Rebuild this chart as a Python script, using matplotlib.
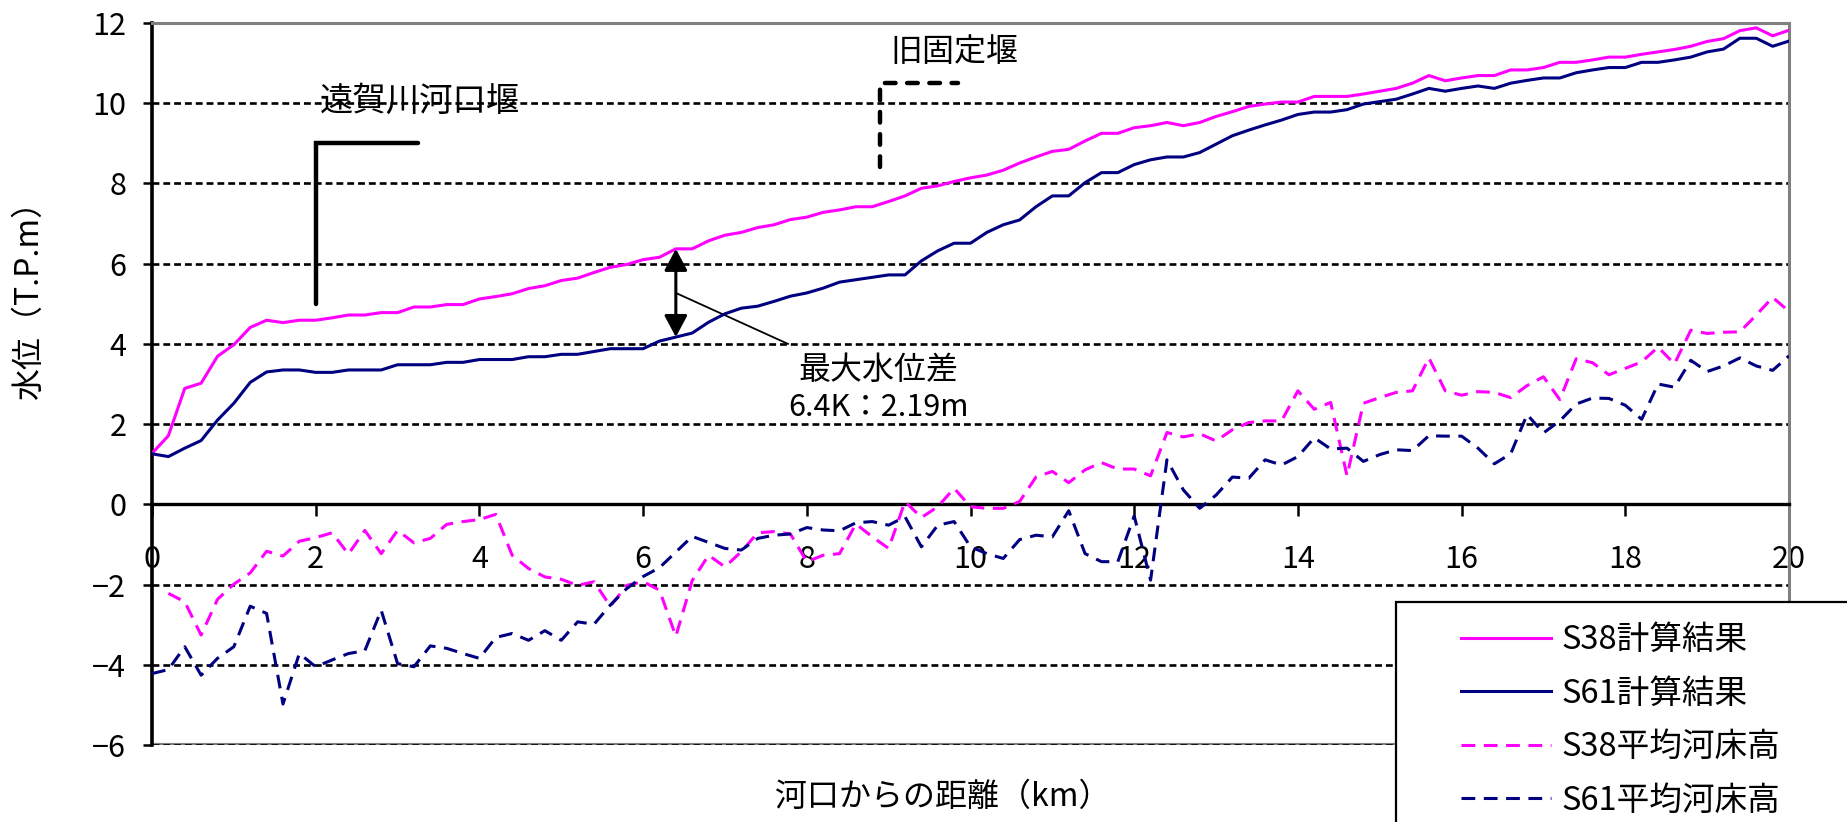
import numpy as np
import matplotlib
matplotlib.use('Agg')
import matplotlib.pyplot as plt
from matplotlib.patches import Rectangle

plt.rcParams['font.family'] = ['Noto Sans CJK JP', 'DejaVu Sans']
plt.rcParams['axes.unicode_minus'] = True

# distance from the river mouth (km), one section every 200 m
km = np.linspace(0, 20, 101)

# computed water level (T.P.m)
s38_wl = [1.27, 1.71, 2.89, 3.02, 3.69, 3.98, 4.41, 4.59, 4.53, 4.59,
          4.59, 4.65, 4.72, 4.72, 4.78, 4.78, 4.92, 4.92, 4.98, 4.98,
          5.12, 5.18, 5.25, 5.38, 5.45, 5.58, 5.64, 5.78, 5.91, 5.98,
          6.10, 6.16, 6.37, 6.37, 6.57, 6.71, 6.78, 6.90, 6.97, 7.10,
          7.16, 7.28, 7.34, 7.42, 7.42, 7.55, 7.69, 7.88, 7.94, 8.05,
          8.14, 8.21, 8.33, 8.51, 8.66, 8.80, 8.85, 9.06, 9.25, 9.25,
          9.39, 9.44, 9.52, 9.44, 9.52, 9.67, 9.79, 9.92, 9.98, 10.03,
          10.03, 10.17, 10.17, 10.17, 10.23, 10.30, 10.37, 10.50, 10.69, 10.56,
          10.63, 10.69, 10.69, 10.83, 10.83, 10.89, 11.02, 11.02, 11.08, 11.15,
          11.15, 11.22, 11.28, 11.34, 11.42, 11.54, 11.61, 11.81, 11.88, 11.68,
          11.82]
s61_wl = [1.26, 1.19, 1.40, 1.59, 2.10, 2.52, 3.04, 3.30, 3.35, 3.35,
          3.29, 3.29, 3.35, 3.35, 3.35, 3.48, 3.48, 3.48, 3.54, 3.54,
          3.61, 3.61, 3.61, 3.68, 3.68, 3.74, 3.74, 3.81, 3.88, 3.88,
          3.88, 4.07, 4.17, 4.27, 4.54, 4.75, 4.89, 4.94, 5.06, 5.19,
          5.27, 5.39, 5.54, 5.60, 5.66, 5.72, 5.72, 6.07, 6.32, 6.51,
          6.51, 6.78, 6.97, 7.09, 7.42, 7.69, 7.69, 8.02, 8.27, 8.27,
          8.47, 8.59, 8.66, 8.66, 8.77, 8.98, 9.19, 9.33, 9.46, 9.58,
          9.72, 9.78, 9.78, 9.84, 9.98, 10.04, 10.10, 10.23, 10.37, 10.30,
          10.37, 10.43, 10.37, 10.50, 10.57, 10.63, 10.63, 10.76, 10.83, 10.89,
          10.89, 11.02, 11.02, 11.08, 11.15, 11.28, 11.35, 11.62, 11.62, 11.42,
          11.55]

# mean river bed height (T.P.m)
s38_bed = [np.nan, -2.22, -2.43, -3.26, -2.37, -1.99, -1.71, -1.17, -1.29, -0.92,
           -0.83, -0.71, -1.24, -0.65, -1.23, -0.65, -0.96, -0.85, -0.50, -0.43,
           -0.38, -0.25, -1.27, -1.60, -1.81, -1.87, -2.02, -1.93, -2.54, -2.02,
           -1.93, -2.14, -3.29, -1.90, -1.27, -1.56, -1.18, -0.71, -0.68, -0.74,
           -1.43, -1.27, -1.23, -0.49, -0.81, -1.10, 0.07, -0.33, -0.06, 0.40,
           -0.06, -0.10, -0.10, 0.07, 0.68, 0.82, 0.54, 0.86, 1.04, 0.88,
           0.88, 0.71, 1.79, 1.68, 1.76, 1.58, 1.86, 2.04, 2.08, 2.08,
           2.83, 2.37, 2.54, 0.71, 2.52, 2.66, 2.79, 2.83, 3.65, 2.83,
           2.72, 2.81, 2.79, 2.66, 2.96, 3.18, 2.61, 3.63, 3.53, 3.23,
           3.39, 3.55, 3.92, 3.50, 4.34, 4.26, 4.29, 4.30, 4.72, 5.16,
           4.81]
s61_bed = [-4.22, -4.12, -3.55, -4.26, -3.84, -3.55, -2.54, -2.72, -4.98, -3.72,
           -4.05, -3.88, -3.72, -3.65, -2.64, -3.97, -4.05, -3.53, -3.59, -3.72,
           -3.84, -3.32, -3.22, -3.39, -3.15, -3.39, -2.93, -2.99, -2.51, -2.10,
           -1.80, -1.58, -1.19, -0.80, -0.95, -1.10, -1.14, -0.85, -0.77, -0.74,
           -0.58, -0.64, -0.66, -0.46, -0.43, -0.52, -0.31, -1.06, -0.52, -0.43,
           -1.06, -1.23, -1.35, -0.88, -0.77, -0.81, -0.16, -1.23, -1.43, -1.43,
           -0.29, -1.89, 1.11, 0.36, -0.10, 0.23, 0.68, 0.65, 1.11, 0.98,
           1.19, 1.66, 1.38, 1.40, 1.07, 1.24, 1.36, 1.34, 1.71, 1.70,
           1.70, 1.40, 1.01, 1.26, 2.24, 1.78, 2.08, 2.50, 2.65, 2.64,
           2.47, 2.12, 3.00, 2.92, 3.59, 3.31, 3.45, 3.65, 3.45, 3.34,
           3.70]

labels = ['S38計算結果', 'S61計算結果', 'S38平均河床高', 'S61平均河床高']
x_ticks = np.arange(0, 21, 2)
y_ticks = np.arange(-6, 13, 2)

# weir symbols: (km, bottom, top, end of arm)
estuary_weir = (2.0, 5.0, 9.0, 3.25)
old_weir = (8.9, 8.4, 10.5, 9.85)
i_max = 32  # 6.4K, largest difference between the two water levels

MAGENTA = '#FF00FF'
NAVY = '#000080'

fig = plt.figure(figsize=(18.47, 8.22), dpi=100)
ax = fig.add_axes([0.0823, 0.0937, 0.8863, 0.8783])

ax.plot(km, s38_wl, color=MAGENTA, lw=2.2, label=labels[0], zorder=3)
ax.plot(km, s61_wl, color=NAVY, lw=2.2, label=labels[1], zorder=3)
ax.plot(km, s38_bed, color=MAGENTA, lw=2.2, dashes=(4.5, 2.8), label=labels[2], zorder=3)
ax.plot(km, s61_bed, color=NAVY, lw=2.2, dashes=(4.5, 2.8), label=labels[3], zorder=3)

ax.set_xlim(0, 20)
ax.set_ylim(-6, 12)
ax.set_xticks(x_ticks)
ax.set_yticks(y_ticks)
ax.grid(axis='y', color='black', lw=1.9, linestyle=(0, (2.6, 1.5)))
ax.set_axisbelow(True)

# axis through zero, grey plot-area frame
ax.spines['bottom'].set_position(('data', 0))
ax.spines['bottom'].set_linewidth(2.4)
ax.spines['left'].set_linewidth(2.6)
for s in ['top', 'right']:
    ax.spines[s].set_color('#808080')
    ax.spines[s].set_linewidth(2.2)
ax.axhline(-6, color='#808080', lw=3, zorder=0.4)

ax.tick_params(axis='x', direction='out', length=8.6, width=1.8, pad=20, labelsize=22)
ax.tick_params(axis='y', direction='out', length=6.5, width=1.8, pad=12, labelsize=22)

# weirs
x0, y0, y1, x1 = estuary_weir
ax.plot([x0, x0, x1], [y0, y1, y1], color='black', lw=3.2,
        solid_capstyle='round', solid_joinstyle='miter')
ax.text(2.05, 10.05, '遠賀川河口堰', fontsize=24, ha='left', va='center')
x0, y0, y1, x1 = old_weir
ax.plot([x0, x0, x1], [y0, y1, y1], color='black', lw=3.2,
        dashes=(2.4, 2.6), dash_capstyle='round')
ax.text(9.02, 11.28, '旧固定堰', fontsize=23, ha='left', va='center')

# maximum water level difference
ax.annotate('', xy=(km[i_max], s38_wl[i_max]), xytext=(km[i_max], s61_wl[i_max]),
            arrowprops=dict(arrowstyle='<|-|>,head_length=0.6,head_width=0.32',
                            color='black', lw=2.2, mutation_scale=22,
                            shrinkA=0, shrinkB=0))
mid = (s38_wl[i_max] + s61_wl[i_max]) / 2
ax.plot([km[i_max], 7.77], [mid, 4.0], color='black', lw=1.3)
ax.text(8.87, 3.35, '最大水位差', fontsize=23, ha='center', va='center')
ax.text(8.87, 2.41, '6.4K：2.19m', fontsize=22, ha='center', va='center')

fig.text(29 / 1847, 1 - 292 / 822, '水位（T.P.m）', fontsize=23,
         rotation=90, ha='center', va='center')
fig.text(943 / 1847, 1 - 797 / 822, '河口からの距離（km）', fontsize=23,
         ha='center', va='center')

# legend box reaching past the figure edge
fig.add_artist(Rectangle((1396 / 1847, -0.1), 0.3, 1 - 602 / 822 + 0.1,
                         transform=fig.transFigure, facecolor='white',
                         edgecolor='black', lw=1.6, zorder=4))
fig.legend(loc='upper left', bbox_to_anchor=(1461 / 1847, 1 - 624 / 822),
           frameon=False, fontsize=23.5, handlelength=2.76, handletextpad=0.33,
           labelspacing=0.66, borderpad=0, borderaxespad=0)

fig.savefig('out.png', dpi=100)
